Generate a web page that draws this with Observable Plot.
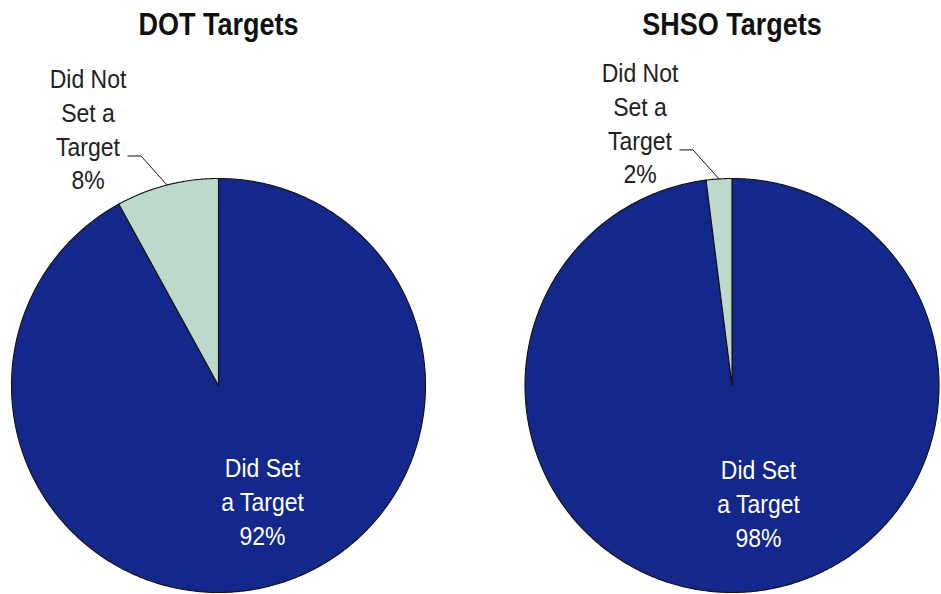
<!DOCTYPE html>
<html><head><meta charset="utf-8">
<script src="https://cdn.jsdelivr.net/npm/d3@7"></script>
<script src="https://cdn.jsdelivr.net/npm/@observablehq/plot@0.6"></script>
<style>html,body{margin:0;padding:0;background:#fff}</style>
</head><body><div id="chart"></div>
<script>
// ---- data ----
const charts = ["DOT Targets", "SHSO Targets"];
const categories = ["Did Set a Target", "Did Not Set a Target"];
const categoryLabels = ["Did Set\na Target", "Did Not\nSet a\nTarget"];
const dotValues = [92, 8];
const shsoValues = [98, 2];
const sliceColors = ["#13288a", "#bcd9cb"];

// ---- layout ----
const W = 941, H = 594, R = 207, CX0 = 218, CY = 385, STEP = 513.5;
const GAP = STEP - 2 * R;
const marginLeft = CX0 - R, marginTop = CY - R;
const marginRight = W - marginLeft - (2 * R * 2 + GAP);
const marginBottom = H - marginTop - 2 * R;
const px = 1 / R; // one pixel in pie units
const font = "'Liberation Sans', Arial, sans-serif";
const STRETCH = 1.15; // the original text is drawn taller than wide

const valuesByChart = {"DOT Targets": dotValues, "SHSO Targets": shsoValues};
const pie = d3.pie().sort(null).value(d => d.value);
const slices = [], innerLabels = [], outerLabels = [], leaders = [];
for (const chart of charts) {
  const arcs = pie(categories.map((c, i) => ({chart, category: c, label: categoryLabels[i], value: valuesByChart[chart][i], color: sliceColors[i]})));
  for (const a of arcs) {
    const key = chart + "|" + a.data.category;
    const n = Math.max(2, Math.ceil((a.endAngle - a.startAngle) / (Math.PI / 360)));
    slices.push({x: 0, y: 0, chart, key, color: a.data.color});
    for (let k = 0; k <= n; k++) {
      const t = a.startAngle + (a.endAngle - a.startAngle) * k / n;
      slices.push({x: Math.sin(t), y: Math.cos(t), chart, key, color: a.data.color});
    }
    const mid = (a.startAngle + a.endAngle) / 2;
    const text = a.data.label + "\n" + a.data.value + "%";
    if (a.data.value < 20) {
      const p = {x: Math.sin(mid), y: Math.cos(mid)};
      outerLabels.push({chart, text, x: p.x, y: p.y});
      leaders.push({chart, key, x: p.x, y: p.y});
      leaders.push({chart, key, x: p.x - 26 * px, y: p.y + 29 * px});
      leaders.push({chart, key, x: p.x - 39 * px, y: p.y + 29 * px});
    } else {
      innerLabels.push({chart, text, x: 0.455 * Math.sin(mid), y: 0.455 * Math.cos(mid)});
    }
  }
}

const chart = Plot.plot({
  width: W, height: H,
  marginLeft, marginRight, marginTop, marginBottom,
  style: {fontFamily: font, background: "#fff"},
  fx: {domain: charts, axis: null, paddingInner: GAP / STEP, paddingOuter: 0, round: false},
  x: {domain: [-1, 1], axis: null},
  y: {domain: [-1, 1], axis: null},
  color: {type: "identity"},
  marks: [
    Plot.line(slices, {fx: "chart", x: "x", y: "y", z: "key", fill: "color", stroke: "#111", strokeWidth: 1.1, curve: "linear-closed"}),
    Plot.line(leaders, {fx: "chart", x: "x", y: "y", z: "key", stroke: "#111", strokeWidth: 1}),
    Plot.text(outerLabels, {fx: "chart", x: "x", y: "y", text: "text", dx: -79, dy: -57, fontSize: 23, lineHeight: 33.7 / STRETCH / 23, fill: "#222", textAnchor: "middle", className: "stretch"}),
    Plot.text(innerLabels, {fx: "chart", x: "x", y: "y", text: "text", dx: 20.6, dy: 23, fontSize: 23, lineHeight: 34 / STRETCH / 23, fill: "#fff", textAnchor: "middle", className: "stretch"}),
    Plot.text(charts, {fx: d => d, text: d => d, frameAnchor: "top", dy: -166, fontSize: 27, fontWeight: "bold", fill: "#111", className: "stretch"})
  ]
});
document.getElementById("chart").append(chart);

// stretch text vertically about its anchor
chart.querySelectorAll(".stretch text").forEach(el => {
  const tr = el.getAttribute("transform");
  if (tr) {
    el.setAttribute("transform", tr + ` scale(1,${STRETCH})`);
  } else {
    const x = +el.getAttribute("x") || 0, y = +el.getAttribute("y") || 0;
    el.setAttribute("transform", `translate(${x},${y}) scale(1,${STRETCH}) translate(${-x},${-y})`);
  }
});
</script>
</body></html>
